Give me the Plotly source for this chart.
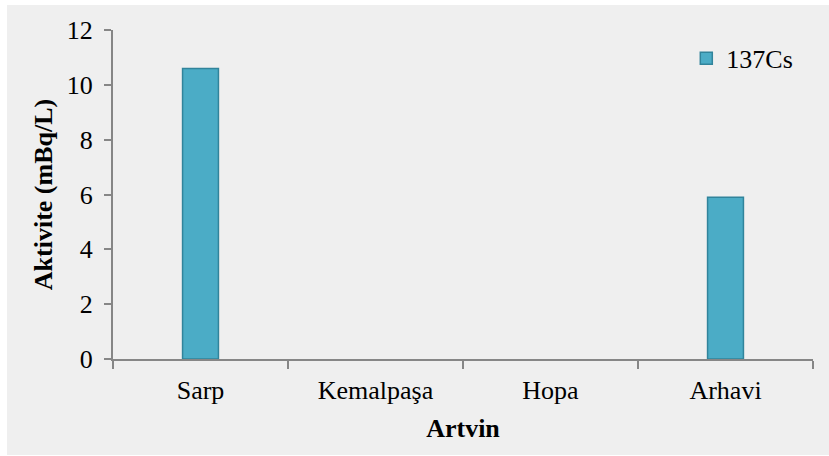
import plotly.graph_objects as go

categories = ["Sarp", "Kemalpaşa", "Hopa", "Arhavi"]
cs137 = [10.6, 0, 0, 5.9]
y_ticks = [0, 2, 4, 6, 8, 10, 12]

FONT = "Liberation Serif"

fig = go.Figure()
fig.add_trace(go.Bar(
    x=categories,
    y=[v if v > 0 else None for v in cs137],
    name="137Cs",
    marker=dict(color="#4bacc6", line=dict(color="#31849b", width=1.5)),
    width=0.205,
    showlegend=True,
))

# light gray chart panel behind everything
fig.add_shape(
    type="rect", xref="paper", yref="paper",
    x0=-0.1514, x1=1.03, y0=-0.292, y1=1.076,
    fillcolor="#efefef", line=dict(width=0), layer="below",
)

fig.update_layout(
    width=829, height=456,
    margin=dict(l=113, r=16, t=30, b=97),
    paper_bgcolor="white",
    plot_bgcolor="#e8f0f3",
    font=dict(family=FONT, size=26, color="black"),
    bargap=0.8,
    legend=dict(
        x=0.819, y=0.985, xanchor="left", yanchor="top",
        bgcolor="rgba(0,0,0,0)", font=dict(family=FONT, size=26),
        itemwidth=30, tracegroupgap=0,
    ),
    xaxis=dict(
        type="category",
        categoryorder="array", categoryarray=categories,
        range=[-0.5, 3.5],
        showline=True, linecolor="#868686", linewidth=2,
        ticks="outside", ticklen=8, tickcolor="#868686", tickwidth=2,
        tickson="boundaries",
        showgrid=False,
        tickfont=dict(family=FONT, size=26),
        ticklabelstandoff=7,
        title=dict(text="<b>Artvin</b>", font=dict(family=FONT, size=26), standoff=15),
    ),
    yaxis=dict(
        range=[0, 12],
        tickvals=y_ticks,
        showline=True, linecolor="#868686", linewidth=2,
        ticks="outside", ticklen=7, tickcolor="#868686", tickwidth=2,
        showgrid=False, zeroline=False,
        tickfont=dict(family=FONT, size=26),
        ticklabelstandoff=6,
        title=dict(text="<b>Aktivite (mBq/L)</b>", font=dict(family=FONT, size=26), standoff=7),
    ),
)

fig.write_html("out.html")
